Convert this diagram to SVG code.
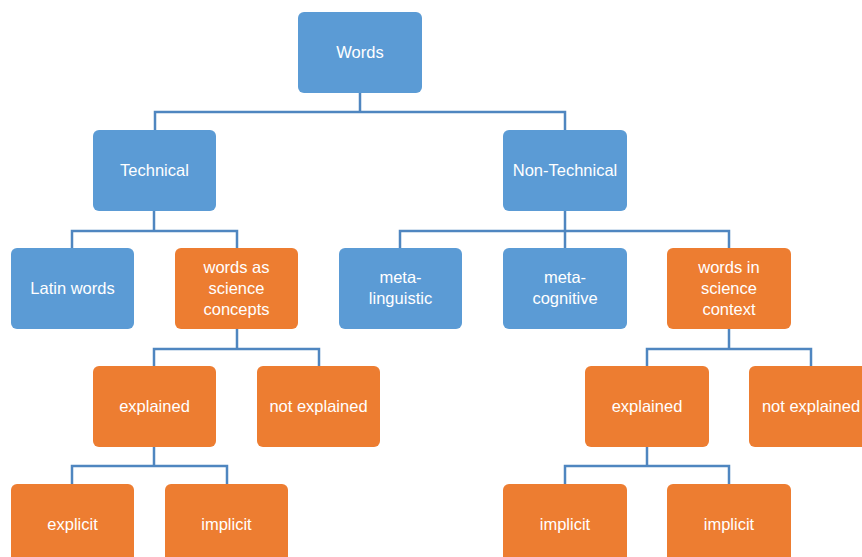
<svg xmlns="http://www.w3.org/2000/svg" width="862" height="557" viewBox="0 0 862 557">
  <style>
    .blue { fill: #5b9bd5; }
    .orange { fill: #ed7d31; }
    .node rect { stroke: none; }
    .node text { font-family: "Liberation Sans", Arial, sans-serif; font-size: 16.5px; fill: #ffffff; text-anchor: middle; }
    .links path { fill: none; stroke: #4f86c0; stroke-width: 2.5; }
  </style>
  <rect width="862" height="557" fill="#ffffff"/>

  <g class="links">
    <!-- Words to level 2 -->
    <path d="M360 93 V112 M155 130 V112 H565 V130"/>
    <!-- Technical children -->
    <path d="M154 211 V231 M72 248 V231 H237 V248"/>
    <!-- Non-Technical children -->
    <path d="M565 211 V231 M400 248 V231 H729 V248 M565 231 V248"/>
    <!-- words as science concepts children -->
    <path d="M237 329 V349 M154 366 V349 H319 V366"/>
    <!-- words in science context children -->
    <path d="M729 329 V349 M647 366 V349 H811 V366"/>
    <!-- explained (left) children -->
    <path d="M154 447 V466 M72 484 V466 H227 V484"/>
    <!-- explained (right) children -->
    <path d="M647 447 V466 M565 484 V466 H729 V484"/>
  </g>

  <g id="words" class="node"><rect class="blue" x="298" y="12" width="124" height="81" rx="6"/><text x="360" y="58">Words</text></g>
  <g id="technical" class="node"><rect class="blue" x="93" y="130" width="123" height="81" rx="6"/><text x="154.5" y="176">Technical</text></g>
  <g id="non-technical" class="node"><rect class="blue" x="503" y="130" width="124" height="81" rx="6"/><text x="565" y="176">Non-Technical</text></g>

  <g id="latin-words" class="node"><rect class="blue" x="11" y="248" width="123" height="81" rx="6"/><text x="72.5" y="294">Latin words</text></g>
  <g id="words-as-science-concepts" class="node"><rect class="orange" x="175" y="248" width="123" height="81" rx="6"/><text x="236.5" y="273">words as</text><text x="236.5" y="294">science</text><text x="236.5" y="315">concepts</text></g>
  <g id="meta-linguistic" class="node"><rect class="blue" x="339" y="248" width="123" height="81" rx="6"/><text x="400.5" y="283">meta-</text><text x="400.5" y="304">linguistic</text></g>
  <g id="meta-cognitive" class="node"><rect class="blue" x="503" y="248" width="124" height="81" rx="6"/><text x="565" y="283">meta-</text><text x="565" y="304">cognitive</text></g>
  <g id="words-in-science-context" class="node"><rect class="orange" x="667" y="248" width="124" height="81" rx="6"/><text x="729" y="273">words in</text><text x="729" y="294">science</text><text x="729" y="315">context</text></g>

  <g id="explained-left" class="node"><rect class="orange" x="93" y="366" width="123" height="81" rx="6"/><text x="154.5" y="412">explained</text></g>
  <g id="not-explained-left" class="node"><rect class="orange" x="257" y="366" width="123" height="81" rx="6"/><text x="318.5" y="412">not explained</text></g>
  <g id="explained-right" class="node"><rect class="orange" x="585" y="366" width="124" height="81" rx="6"/><text x="647" y="412">explained</text></g>
  <g id="not-explained-right" class="node"><rect class="orange" x="749" y="366" width="124" height="81" rx="6"/><text x="811" y="412">not explained</text></g>

  <g id="explicit" class="node"><rect class="orange" x="11" y="484" width="123" height="81" rx="6"/><text x="72.5" y="530">explicit</text></g>
  <g id="implicit-left" class="node"><rect class="orange" x="165" y="484" width="123" height="81" rx="6"/><text x="226.5" y="530">implicit</text></g>
  <g id="implicit-mid" class="node"><rect class="orange" x="503" y="484" width="124" height="81" rx="6"/><text x="565" y="530">implicit</text></g>
  <g id="implicit-right" class="node"><rect class="orange" x="667" y="484" width="124" height="81" rx="6"/><text x="729" y="530">implicit</text></g>
</svg>
